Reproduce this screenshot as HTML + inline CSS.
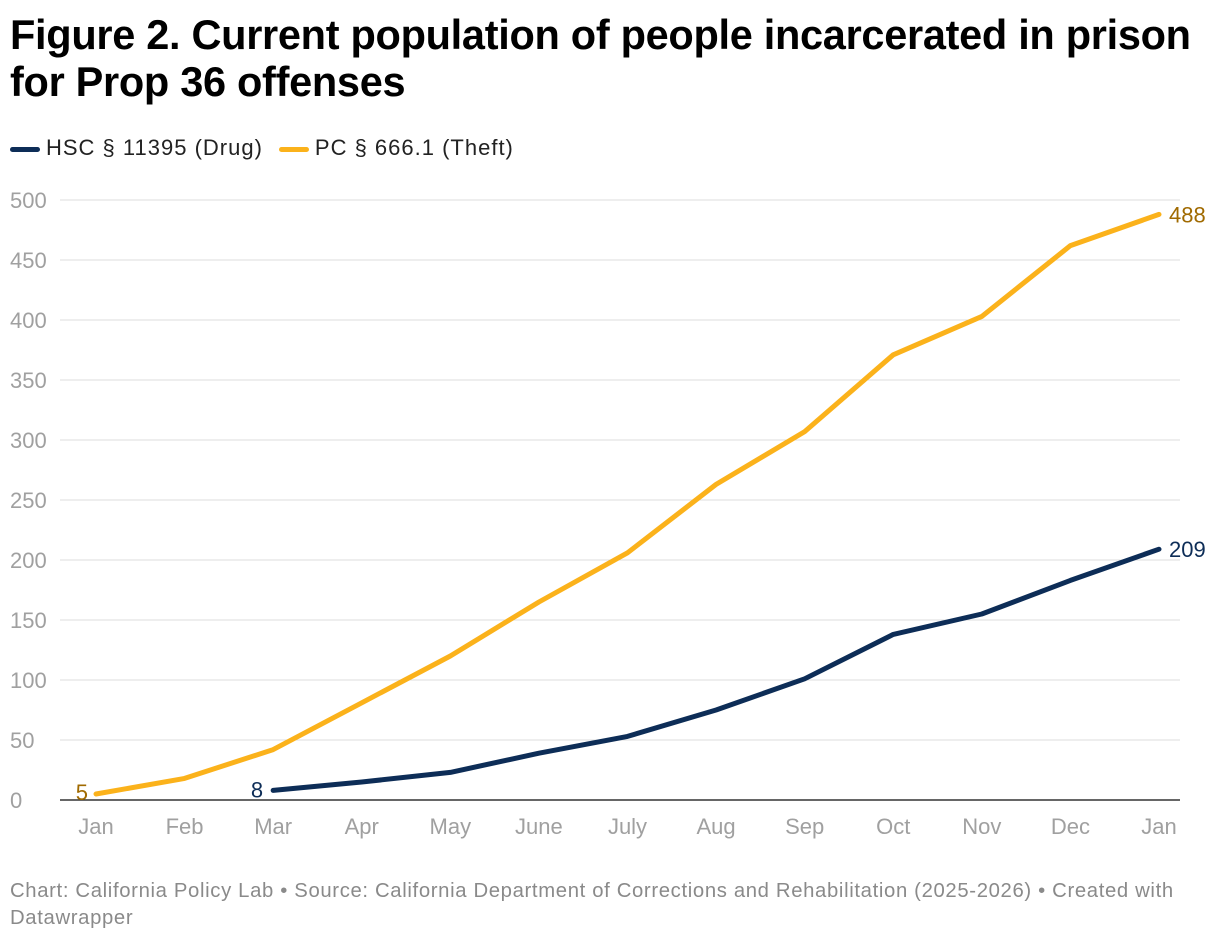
<!DOCTYPE html>
<html><head><meta charset="utf-8">
<style>
body{margin:0;background:#fff;font-family:"Liberation Sans",Arial,sans-serif;}
#wrap{position:relative;width:1220px;height:942px;overflow:hidden;}
h1{position:absolute;left:10px;top:11px;margin:0;font-size:41.5px;line-height:47px;font-weight:bold;color:#000;letter-spacing:-0.3px;white-space:nowrap;}
.legend{position:absolute;top:135px;left:10px;font-size:22px;color:#222;display:flex;gap:16px;letter-spacing:1px;}
.legend span.sw{display:inline-block;width:30px;height:5px;border-radius:3px;vertical-align:middle;margin-right:6px;}
.foot{position:absolute;left:10px;top:878px;font-size:20.3px;line-height:27px;color:#8a8a8a;width:1185px;letter-spacing:0.65px;}
</style></head><body>
<div id="wrap">
<h1>Figure 2. Current population of people incarcerated in prison<br>for Prop 36 offenses</h1>
<div class="legend">
<div><span class="sw" style="background:#0d2d57"></span>HSC § 11395 (Drug)</div>
<div><span class="sw" style="background:#fbb21b"></span>PC § 666.1 (Theft)</div>
</div>
<svg id="chart" width="1220" height="942" style="position:absolute;left:0;top:0"></svg>
<div class="foot">Chart: California Policy Lab • Source: California Department of Corrections and Rehabilitation (2025-2026) • Created with Datawrapper</div>
</div>
<script>
const months=["Jan","Feb","Mar","Apr","May","June","July","Aug","Sep","Oct","Nov","Dec","Jan"];
const theft=[5,18,42,81,120,165,206,263,307,371,403,462,488];
const drug=[null,null,8,15,23,39,53,75,101,138,155,183,209];
const yTicks=[0,50,100,150,200,250,300,350,400,450,500];
const NS="http://www.w3.org/2000/svg";
const svg=document.getElementById('chart');
const x=i=>96+i*(1159-96)/(months.length-1);
const y=v=>800-v*1.2;
function mk(t,a){const e=document.createElementNS(NS,t);for(const k in a)e.setAttribute(k,a[k]);svg.appendChild(e);return e;}
yTicks.forEach(v=>{
 if(v>0){const l=mk('line',{x1:60,x2:1180,y1:y(v),y2:y(v),stroke:'#dedede','stroke-width':1});
 
 }
 const t=mk('text',{x:10,y:y(v)+8,'font-size':22,fill:'#a0a0a0','font-family':'Liberation Sans, Arial, sans-serif'});
 t.textContent=v;
 
 
});
const base=mk('line',{x1:60,x2:1180,y1:800,y2:800,stroke:'#333','stroke-width':1.5});


months.forEach((m,i)=>{
 const t=mk('text',{x:x(i),y:834,'font-size':22,fill:'#a0a0a0','text-anchor':'middle','font-family':'Liberation Sans, Arial, sans-serif'});
 t.textContent=m;
 
 
});
function line(data,color,name){
 const pts=[];data.forEach((v,i)=>{if(v!==null)pts.push(x(i)+','+y(v));});
 const p=mk('polyline',{points:pts.join(' '),fill:'none',stroke:color,'stroke-width':5,'stroke-linejoin':'round','stroke-linecap':'round'});
 
 
}
line(theft,'#fbb21b','theft-line');
line(drug,'#0d2d57','drug-line');
function lab(txt,xx,yy,color,anchor,name){
 const t=mk('text',{x:xx,y:yy,'font-size':22,fill:color,'text-anchor':anchor,'font-family':'Liberation Sans, Arial, sans-serif'});
 t.textContent=txt;
 
 
}
const L=months.length-1;
lab(theft[L],x(L)+10,y(theft[L])+8,'#a06a00','start','theft-end-label');
lab(drug[L],x(L)+10,y(drug[L])+8,'#0d2d57','start','drug-end-label');
lab(theft[0],x(0)-8,y(theft[0])+6,'#a06a00','end','theft-start-label');
lab(drug[2],x(2)-10,y(drug[2])+7,'#0d2d57','end','drug-start-label');
</script>
</body></html>
